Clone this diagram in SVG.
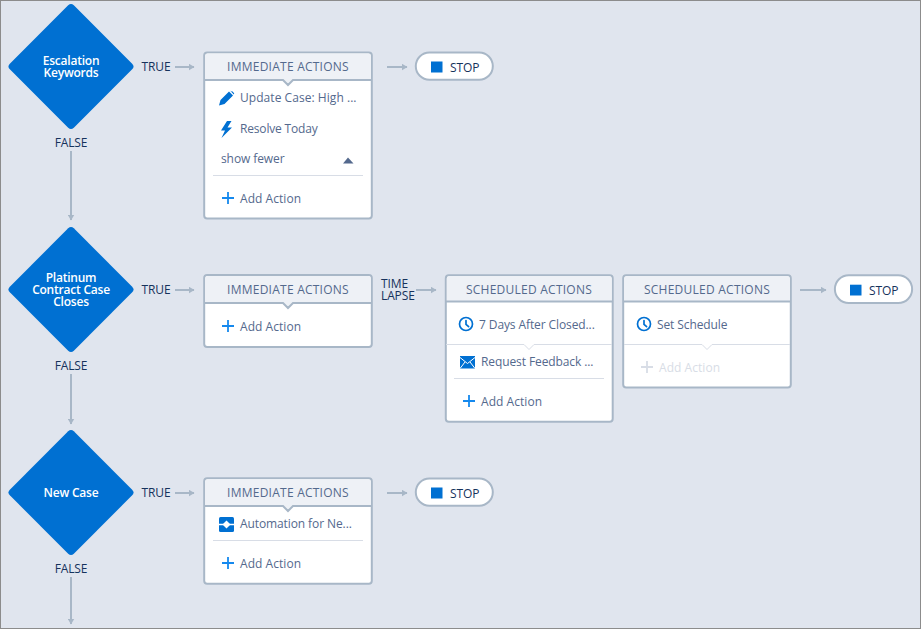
<svg xmlns="http://www.w3.org/2000/svg" width="921" height="629" viewBox="0 0 921 629">
<style>
text{font-family:"Open Sans","Noto Sans","Liberation Sans",sans-serif;font-size:12px}
.dia{fill:#0070d2}
.dt{fill:#fff;font-size:12px;font-weight:600;text-anchor:middle;letter-spacing:-.22px}
.lab{fill:#16325c;text-anchor:middle;letter-spacing:-.12px}
.box{fill:#fff;stroke:#a8b7c7;stroke-width:2}
.hd{fill:#eef1f6}
.sep{stroke:#a8b7c7;stroke-width:2;fill:#eef1f6}
.hdt{fill:#54698d;text-anchor:middle;font-size:12px;letter-spacing:.24px}
.it{fill:#54698d;letter-spacing:-.1px}
.wide{letter-spacing:.05px}
.rule{stroke:#d8dde6;stroke-width:1;fill:none}
.conn{stroke:#a8b7c7;stroke-width:2;fill:none;marker-end:url(#ah)}
.plus{stroke:#1589ee;stroke-width:1.8;fill:none}
.plusd{stroke:#d8dde6;stroke-width:1.8;fill:none}
.stopb{fill:#fff;stroke:#a8b7c7;stroke-width:2}
.stops{fill:#0070d2}
.stopt{fill:#16325c;letter-spacing:-.1px}
.clock{fill:none;stroke:#0070d2;stroke-width:1.7}
.ico{fill:#0070d2}
</style>
<defs>
<marker id="ah" viewBox="0 0 6 7" refX="5.500" refY="3.500" markerWidth="6" markerHeight="7" markerUnits="userSpaceOnUse" orient="auto"><path d="M0 0L6 3.500L0 7Z" fill="#a8b7c7"/></marker>
<g id="pl"><path d="M0 -6V6M-6 0H6"/></g>
<g id="ck"><circle class="clock" cx="0" cy="0" r="6.500"/><path d="M0 -3.500V0.300L2.600 2.600" class="clock" stroke-linecap="round"/></g>
</defs>
<rect width="921" height="629" fill="#e0e5ee"/>
<rect x=".5" y=".5" width="920" height="628" fill="none" stroke="#8c8c8c"/>

<g id="connectors">
<path class="conn" d="M71 151V220"/>
<path class="conn" d="M71 374V424"/>
<path class="conn" d="M71 577V624"/>
<path class="conn" d="M175 67H194"/>
<path class="conn" d="M175 290H194"/>
<path class="conn" d="M175 493H194"/>
<path class="conn" d="M416 290H436"/>
<path class="conn" d="M387 67H407"/>
<path class="conn" d="M800 290H826"/>
<path class="conn" d="M387 493H407"/>
</g>

<g id="decision-escalation">
<rect class="dia" x="25.750" y="21.250" width="90.500" height="90.500" rx="4" transform="rotate(45 71 66.500)"/>
<text class="dt" x="71" y="65"><tspan x="71">Escalation</tspan><tspan x="71" dy="12">Keywords</tspan></text>
<text class="lab" x="156" y="71">TRUE</text>
<text class="lab" x="71" y="147">FALSE</text>
</g>
<g id="decision-platinum">
<rect class="dia" x="25.750" y="244.250" width="90.500" height="90.500" rx="4" transform="rotate(45 71 289.500)"/>
<text class="dt" x="71" y="282"><tspan x="71">Platinum</tspan><tspan x="71" dy="12">Contract Case</tspan><tspan x="71" dy="12">Closes</tspan></text>
<text class="lab" x="156" y="294">TRUE</text>
<text class="lab" x="71" y="370">FALSE</text>
</g>
<g id="decision-newcase">
<rect class="dia" x="25.750" y="447.250" width="90.500" height="90.500" rx="4" transform="rotate(45 71 492.500)"/>
<text class="dt" x="71" y="497">New Case</text>
<text class="lab" x="156" y="497">TRUE</text>
<text class="lab" x="71" y="573">FALSE</text>
</g>

<g id="actions-1">
<rect class="box" x="204.200" y="52.500" width="167.600" height="166" rx="3"/>
<path class="hd" d="M205.200 56.500a3 3 0 0 1 3-3H367.800a3 3 0 0 1 3 3V80H205.200Z"/>
<path class="sep" d="M205 80H283L288 85L293 80H371"/>
<text class="hdt" x="288" y="71">IMMEDIATE ACTIONS</text>
<path class="ico" d="M219 105.500L220.500 100L229 91.500L233 95.500L224.500 104ZM230 90.500L231.500 91.500a1 1 0 0 1 1 0L234 93a1 1 0 0 1 0 1L233.800 94.500Z"/>
<text class="it wide" x="240" y="102">Update Case: High ...</text>
<path class="ico" d="M227 121L221 130.500H225L221.500 138L232 127.500H227.500L231.500 121Z"/>
<text class="it" x="240" y="133" style="letter-spacing:-.17px">Resolve Today</text>
<text class="it" x="221" y="163">show fewer</text>
<path d="M343 163.500L348 157.500L353.500 163.500Z" fill="#54698d"/>
<path class="rule" d="M213 175.500H363"/>
<use href="#pl" class="plus" transform="translate(228 198)"/>
<text class="it wide" x="240" y="203">Add Action</text>
</g>

<g id="stop-1">
<rect class="stopb" x="415.800" y="52.500" width="77" height="27.300" rx="13.600"/>
<rect class="stops" x="431" y="61.500" width="11.500" height="11"/>
<text class="stopt" x="450" y="72">STOP</text>
</g>

<g id="actions-2">
<rect class="box" x="204.200" y="275" width="167.600" height="72" rx="3"/>
<path class="hd" d="M205.200 279a3 3 0 0 1 3-3H367.800a3 3 0 0 1 3 3V303H205.200Z"/>
<path class="sep" d="M205 303H283L288 308L293 303H371"/>
<text class="hdt" x="288" y="294">IMMEDIATE ACTIONS</text>
<use href="#pl" class="plus" transform="translate(228 326)"/>
<text class="it wide" x="240" y="331">Add Action</text>
</g>

<g id="timelapse">
<text class="lab" x="381" y="288" style="text-anchor:start"><tspan x="381">TIME</tspan><tspan x="381" dy="12">LAPSE</tspan></text>
</g>

<g id="scheduled-1">
<rect class="box" x="445.800" y="275.200" width="166.900" height="146.500" rx="3"/>
<path class="hd" d="M446.800 279a3 3 0 0 1 3-3H608.700a3 3 0 0 1 3 3V301.500H446.800Z"/>
<path class="sep" d="M446 301.500H612"/>
<text class="hdt" x="529" y="294">SCHEDULED ACTIONS</text>
<use href="#ck" transform="translate(466 324)"/>
<text class="it" x="479" y="329">7 Days After Closed...</text>
<path class="rule" d="M446 344.500H524L529 349.500L534 344.500H612"/>
<rect class="ico" x="460" y="356" width="15" height="12.500"/>
<path d="M460 357.500L467.500 363.500L475 357.500M460 368.500L465 362M475 368.500L470 362" fill="none" stroke="#fff" stroke-width="1"/>
<text class="it" x="481" y="366">Request Feedback ...</text>
<path class="rule" d="M454 378.500H604"/>
<use href="#pl" class="plus" transform="translate(469 401)"/>
<text class="it wide" x="481" y="406">Add Action</text>
</g>

<g id="scheduled-2">
<rect class="box" x="623.200" y="275.200" width="167.600" height="112.300" rx="3"/>
<path class="hd" d="M624.200 279a3 3 0 0 1 3-3H786.800a3 3 0 0 1 3 3V301.500H624.200Z"/>
<path class="sep" d="M624 301.500H790"/>
<text class="hdt" x="707" y="294">SCHEDULED ACTIONS</text>
<use href="#ck" transform="translate(644 324)"/>
<text class="it" x="657" y="329">Set Schedule</text>
<path class="rule" d="M624 344.500H702L707 349.500L712 344.500H790"/>
<use href="#pl" class="plusd" transform="translate(647 367)"/>
<text x="659" y="372" fill="#d8dde6" letter-spacing=".05">Add Action</text>
</g>

<g id="stop-2">
<rect class="stopb" x="834.900" y="275.200" width="77.200" height="27.900" rx="13.900"/>
<rect class="stops" x="850" y="284.700" width="11.500" height="10.800"/>
<text class="stopt" x="869" y="295">STOP</text>
</g>

<g id="actions-3">
<rect class="box" x="204.200" y="478.300" width="167.600" height="105.500" rx="3"/>
<path class="hd" d="M205.200 482.300a3 3 0 0 1 3-3H367.800a3 3 0 0 1 3 3V506H205.200Z"/>
<path class="sep" d="M205 506H283L288 511L293 506H371"/>
<text class="hdt" x="288" y="497">IMMEDIATE ACTIONS</text>
<rect class="ico" x="219" y="517" width="15" height="15" rx="1.500"/>
<path d="M219 524.500H234" stroke="#fff" stroke-width="1.500"/>
<path d="M226.500 520.500L230.500 524.500L226.500 528.500L222.500 524.500Z" fill="#fff"/>
<text class="it" x="240" y="528">Automation for Ne...</text>
<path class="rule" d="M213 540.500H363"/>
<use href="#pl" class="plus" transform="translate(228 563)"/>
<text class="it wide" x="240" y="568">Add Action</text>
</g>

<g id="stop-3">
<rect class="stopb" x="415.800" y="478.500" width="77" height="27.300" rx="13.600"/>
<rect class="stops" x="431" y="487.500" width="11.500" height="11"/>
<text class="stopt" x="450" y="498">STOP</text>
</g>
</svg>
